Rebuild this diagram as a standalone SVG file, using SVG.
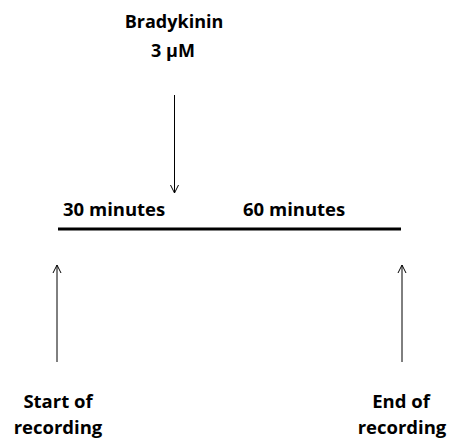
<svg xmlns="http://www.w3.org/2000/svg" width="449" height="439" viewBox="0 0 449 439">
<style>
text{font-family:"Open Sans","Liberation Sans",sans-serif;font-weight:bold;font-size:18.5px;fill:#000}
.arr{stroke:#000;stroke-width:1;fill:none}
</style>
<defs>
<marker id="ah" viewBox="0 0 10 10" refX="9" refY="5" markerWidth="10" markerHeight="10" markerUnits="userSpaceOnUse" orient="auto">
<path d="M1,1 L9,5 L1,9" fill="none" stroke="#000" stroke-width="1"/>
</marker>
</defs>
<rect width="449" height="439" fill="#fff"/>
<g id="bradykinin">
<text x="174" y="28" text-anchor="middle" style="font-size:18px">Bradykinin</text>
<text x="173" y="57" text-anchor="middle" style="font-size:18px">3 μM</text>
</g>
<g id="timeline">
<line x1="58" y1="229" x2="401" y2="229" stroke="#000" stroke-width="3"/>
<text x="63" y="216">30 minutes</text>
<text x="243" y="216">60 minutes</text>
</g>
<g id="start">
<text x="58" y="408" text-anchor="middle">Start of</text>
<text x="58" y="434" text-anchor="middle">recording</text>
</g>
<g id="end">
<text x="401" y="408" text-anchor="middle">End of</text>
<text x="402" y="434" text-anchor="middle">recording</text>
</g>
<g id="connectors">
<line class="arr" x1="174.5" y1="95" x2="174.5" y2="193" marker-end="url(#ah)"/>
<line class="arr" x1="57" y1="362" x2="57" y2="265" marker-end="url(#ah)"/>
<line class="arr" x1="402" y1="362" x2="402" y2="265" marker-end="url(#ah)"/>
</g>
</svg>
